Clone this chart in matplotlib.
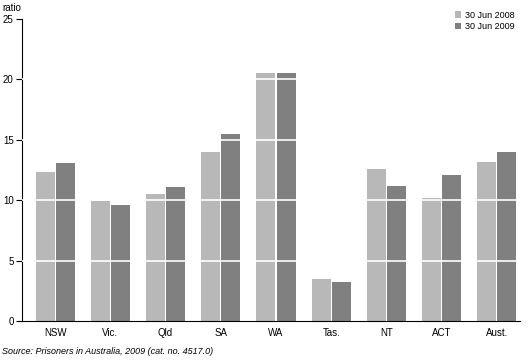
import matplotlib
matplotlib.use("Agg")
import matplotlib.pyplot as plt
import numpy as np

categories = ["NSW", "Vic.", "Qld", "SA", "WA", "Tas.", "NT", "ACT", "Aust."]
jun2008 = [12.35, 9.95, 10.5, 14.0, 20.5, 3.5, 12.55, 10.15, 13.2]
jun2009 = [13.1, 9.6, 11.1, 15.5, 20.5, 3.2, 11.15, 12.05, 13.95]
series_labels = ["30 Jun 2008", "30 Jun 2009"]
yticks = [0, 5, 10, 15, 20, 25]

plt.rcParams['font.family'] = ['Liberation Sans', 'DejaVu Sans']

fig = plt.figure(figsize=(5.29, 3.63), dpi=100)
ax = fig.add_axes([22/529, 42/363, 498/529, 302/363])

x = np.arange(len(categories))
w = 0.345
c1, c2 = "#b8b8b8", "#808080"
ax.bar(x - w/2 - 0.01, jun2008, width=w, color=c1, label=series_labels[0], zorder=2)
ax.bar(x + w/2 + 0.01, jun2009, width=w, color=c2, label=series_labels[1], zorder=2)

for t in yticks[1:-1]:
    ax.axhline(t, color="white", lw=1.2, zorder=3)

ax.set_xlim(-0.6, 8.42)
ax.set_ylim(0, 25)
ax.set_yticks(yticks)
ax.set_xticks(x)
ax.set_xticklabels(categories)
ax.tick_params(axis='y', direction='out', length=4, width=0.8, labelsize=7, pad=2)
ax.tick_params(axis='x', length=0, labelsize=7, pad=5)
for s in ["top", "right"]:
    ax.spines[s].set_visible(False)
for s in ["left", "bottom"]:
    ax.spines[s].set_linewidth(0.8)

fig.text(2/529, 1 - 8/363, "ratio", fontsize=7, va="center", ha="left")
fig.text(2/529, 1 - 352/363, "Source: Prisoners in Australia, 2009 (cat. no. 4517.0)",
         fontsize=6.5, style="italic", va="center", ha="left")

leg = ax.legend(loc="upper left", bbox_to_anchor=(450/529, 1 - 6/363), bbox_transform=fig.transFigure,
                frameon=False, fontsize=6.5, handlelength=0.7, handleheight=0.7,
                handletextpad=0.5, labelspacing=0.3, borderpad=0)

fig.savefig("out.png", dpi=100)
